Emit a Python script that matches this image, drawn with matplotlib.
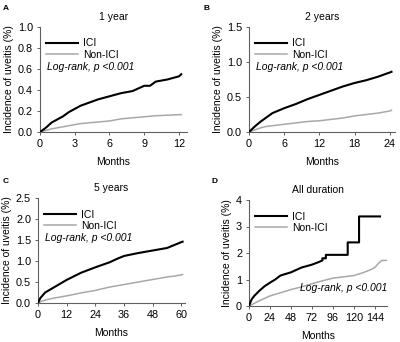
import matplotlib
matplotlib.use("Agg")
import matplotlib.pyplot as plt

plt.rcParams['font.family'] = ['Liberation Sans', 'DejaVu Sans']
plt.rcParams['font.size'] = 7.5

# Panel A: 1 year
a_months = [0, 0.5, 1, 1.5, 2, 2.5, 3, 3.5, 4, 5, 6, 7, 8, 9, 9.5, 10, 11, 12, 12.2]
a_ici = [0, 0.04, 0.09, 0.12, 0.15, 0.19, 0.22, 0.25, 0.27, 0.31, 0.34, 0.37, 0.39, 0.44, 0.44, 0.48, 0.50, 0.53, 0.55]
a_non = [0, 0.015, 0.03, 0.04, 0.05, 0.06, 0.07, 0.08, 0.085, 0.095, 0.105, 0.125, 0.135, 0.145, 0.15, 0.155, 0.16, 0.165, 0.165]

# Panel B: 2 years
b_months = [0, 1, 2, 3, 4, 6, 8, 10, 12, 14, 16, 18, 20, 22, 24, 24.3]
b_ici = [0, 0.08, 0.15, 0.21, 0.27, 0.34, 0.40, 0.47, 0.53, 0.59, 0.65, 0.70, 0.74, 0.79, 0.85, 0.86]
b_non = [0, 0.03, 0.06, 0.08, 0.09, 0.11, 0.13, 0.15, 0.16, 0.18, 0.20, 0.23, 0.25, 0.27, 0.30, 0.31]

# Panel C: 5 years
c_months = [0, 1, 3, 6, 9, 12, 18, 24, 30, 33, 36, 42, 48, 54, 57, 60, 60.5]
c_ici = [0, 0.12, 0.25, 0.35, 0.45, 0.55, 0.72, 0.85, 0.97, 1.05, 1.12, 1.19, 1.25, 1.31, 1.38, 1.45, 1.46]
c_non = [0, 0.03, 0.07, 0.11, 0.14, 0.17, 0.24, 0.30, 0.38, 0.41, 0.44, 0.50, 0.56, 0.62, 0.64, 0.67, 0.68]

# Panel D: all duration
d_ici_months = [0, 3, 6, 12, 18, 24, 30, 36, 48, 60, 72, 80, 84, 84, 88, 88, 113, 113, 126, 126, 150]
d_ici = [0, 0.25, 0.38, 0.58, 0.75, 0.88, 1.00, 1.15, 1.27, 1.45, 1.56, 1.66, 1.72, 1.80, 1.80, 1.93, 1.93, 2.40, 2.40, 3.38, 3.38]
d_non_months = [0, 12, 24, 36, 48, 60, 72, 84, 96, 108, 120, 130, 138, 144, 148, 152, 158]
d_non = [0, 0.2, 0.38, 0.50, 0.62, 0.72, 0.84, 0.95, 1.05, 1.10, 1.15, 1.25, 1.35, 1.45, 1.60, 1.72, 1.72]

fig = plt.figure(figsize=(4.0, 3.42), dpi=100)
W, H = 400, 342

def add_ax(x0, x1, ytop, ybot):
    return fig.add_axes([x0 / W, 1 - ybot / H, (x1 - x0) / W, (ybot - ytop) / H])

panels = [
    dict(rect=(40, 187, 27, 132), letter='A', lxy=(3, 5), title='1 year',
         x=a_months, ici=a_ici, xn=a_months, non=a_non, xlim=12.7, xt=[0, 3, 6, 9, 12],
         ylim=1.0, yt=[0, 0.2, 0.4, 0.6, 0.8, 1.0], yfmt='{:.1f}', lr='top'),
    dict(rect=(249, 395, 27, 132), letter='B', lxy=(204, 5), title='2 years',
         x=b_months, ici=b_ici, xn=b_months, non=b_non, xlim=24.9, xt=[0, 6, 12, 18, 24],
         ylim=1.5, yt=[0, 0.5, 1.0, 1.5], yfmt='{:.1f}', lr='top'),
    dict(rect=(38, 185, 198, 303), letter='C', lxy=(3, 178), title='5 years',
         x=c_months, ici=c_ici, xn=c_months, non=c_non, xlim=61.5, xt=[0, 12, 24, 36, 48, 60],
         ylim=2.5, yt=[0, 0.5, 1.0, 1.5, 2.0, 2.5], yfmt='{:.1f}', lr='top'),
    dict(rect=(249, 387, 200, 306), letter='D', lxy=(211, 178), title='All duration',
         x=d_ici_months, ici=d_ici, xn=d_non_months, non=d_non, xlim=158, xt=[0, 24, 48, 72, 96, 120, 144],
         ylim=4, yt=[0, 1, 2, 3, 4], yfmt='{:.0f}', lr='bottom'),
]

for p in panels:
    x0, x1, yt_, yb_ = p['rect']
    ax = add_ax(x0, x1, yt_, yb_)
    ax.plot(p['xn'], p['non'], color='#a8a8a8', lw=1.1, label='Non-ICI', zorder=2)
    ax.plot(p['x'], p['ici'], color='black', lw=1.5, label='ICI', zorder=3)
    ax.set_xlim(0, p['xlim'])
    ax.set_ylim(0, p['ylim'])
    ax.set_xticks(p['xt'])
    ax.set_yticks(p['yt'])
    ax.set_yticklabels([p['yfmt'].format(v) for v in p['yt']])
    for s in ['top', 'right']:
        ax.spines[s].set_visible(False)
    for s in ['left', 'bottom']:
        ax.spines[s].set_color('#606060')
        ax.spines[s].set_linewidth(0.8)
    ax.tick_params(axis='both', labelsize=7.8, length=2.5, width=0.7, color='#606060', pad=2.5)
    ax.set_xlabel('Months', fontsize=7.5, labelpad=6)
    ax.set_ylabel('Incidence of uveitis (%)', fontsize=7.5, labelpad=3)
    ax.set_title(p['title'], fontsize=7.5, pad=5)
    handles, labels = ax.get_legend_handles_labels()
    ax.legend(handles[::-1], labels[::-1], loc='upper left', frameon=False,
              bbox_to_anchor=(0.0, 0.95), fontsize=7.5, handlelength=3.0,
              handletextpad=0.5, labelspacing=0.15, borderaxespad=0.2)
    if p['lr'] == 'top':
        ax.text(0.05, 0.62, 'Log-rank, p <0.001', transform=ax.transAxes,
                fontsize=7.5, style='italic', va='center', ha='left')
    else:
        ax.text(1.0, 0.17, 'Log-rank, p <0.001', transform=ax.transAxes,
                fontsize=7.5, style='italic', va='center', ha='right')
    fig.text(p['lxy'][0] / W, 1 - p['lxy'][1] / H, p['letter'], fontsize=6,
             fontweight='bold', va='top', ha='left')

fig.savefig('out.png', dpi=100)
